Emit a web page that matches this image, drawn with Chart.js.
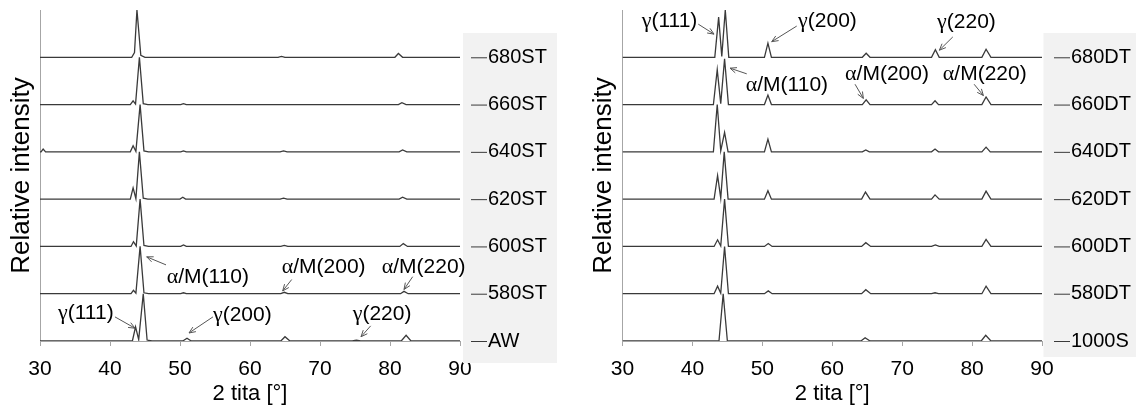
<!DOCTYPE html>
<html>
<head>
<meta charset="utf-8">
<script src="https://cdn.jsdelivr.net/npm/chart.js@4.4.1/dist/chart.umd.min.js"></script>
<style>
  html, body { margin: 0; padding: 0; background: #fff; }
  #wrap { position: relative; width: 1136px; height: 410px; }
  .panel { position: absolute; top: 0; width: 568px; height: 410px; }
</style>
</head>
<body>
<div id="wrap">
  <div class="panel" style="left:0"><canvas id="chartST" width="568" height="410"></canvas></div>
  <div class="panel" style="left:568px"><canvas id="chartDT" width="568" height="410"></canvas></div>
</div>
<script>
// x range in degrees (2 theta), y in relative intensity (each pattern stacked one unit apart)
var xTicks = [30, 40, 50, 60, 70, 80, 90];

// ---- left panel: single tempering (ST) ----
var stNames = ['AW', '580ST', '600ST', '620ST', '640ST', '660ST', '680ST'];

var stAW = [[30,0],[43.2,0],[43.65,0.3],[44.1,0.03],[44.75,1],[45.3,0.02],[46,0],[50.4,0],[51.0,0.06],[51.6,0],
  [64.4,0],[65.0,0.09],[65.7,0],[74.6,0],[75.2,0.02],[75.8,0],[81.6,0],[82.3,0.12],[83.0,0],[90,0]];
var st580 = [[30,0],[43.0,0],[43.35,0.07],[43.7,0.01],[44.3,1],[44.85,0.02],[45.5,0],[50.1,0],[50.5,0.02],[50.9,0],
  [64.4,0],[64.9,0.03],[65.4,0],[81.5,0],[82.0,0.05],[82.6,0],[90,0]];
var st600 = [[30,0],[43.0,0],[43.35,0.1],[43.75,0.01],[44.3,1],[44.85,0.02],[45.5,0],[50.1,0],[50.5,0.03],[50.9,0],
  [64.4,0],[64.9,0.02],[65.4,0],[81.4,0],[81.9,0.06],[82.5,0],[90,0]];
var st620 = [[30,0],[42.9,0],[43.3,0.24],[43.7,0.01],[44.2,1],[44.75,0.02],[45.4,0],[50.0,0],[50.4,0.04],[50.8,0],
  [64.3,0],[64.8,0.02],[65.3,0],[81.3,0],[81.8,0.04],[82.4,0],[90,0]];
var st640 = [[30,0],[30.15,0],[30.45,0.06],[30.8,0],[42.9,0],[43.3,0.13],[43.7,0.01],[44.3,1],[44.85,0.02],[45.5,0],
  [50.1,0],[50.5,0.02],[50.9,0],[64.3,0],[64.8,0.02],[65.3,0],[81.3,0],[81.8,0.04],[82.4,0],[90,0]];
var st660 = [[30,0],[42.9,0],[43.3,0.08],[43.65,0.01],[44.2,1],[44.75,0.02],[45.4,0],[50.1,0],[50.5,0.02],[50.9,0],
  [81.2,0],[81.7,0.04],[82.3,0],[90,0]];
var st680 = [[30,0],[43.1,0],[43.5,0.1],[43.85,1],[44.4,0.04],[45.0,0],[64.0,0],[64.5,0.02],[65,0],
  [80.7,0],[81.2,0.08],[81.8,0],[90,0]];

var stTraces = [stAW, st580, st600, st620, st640, st660, st680];

// peak labels: text anchor (left edge, middle) and arrow tail -> head, in axis units
var stNotes = [
  { greek: 'γ', text: '(111)',   x: 32.57, y: 0.59, from: [40.71, 0.51], to: [43.57, 0.27] },
  { greek: 'γ', text: '(200)',   x: 54.71, y: 0.55, from: [54.71, 0.51], to: [51.29, 0.17] },
  { greek: 'γ', text: '(220)',   x: 74.67, y: 0.57, from: [77.24, 0.32], to: [75.86, 0.09] },
  { greek: 'α', text: '/M(110)', x: 48.1,  y: 1.35, from: [48.0, 1.61],  to: [45.24, 1.78] },
  { greek: 'α', text: '/M(200)', x: 64.53, y: 1.57, from: [65.96, 1.30], to: [64.67, 1.06] },
  { greek: 'α', text: '/M(220)', x: 78.81, y: 1.57, from: [83.24, 1.36], to: [82.0, 1.09] }
];

// ---- right panel: double tempering (DT) ----
var dtNames = ['1000S', '580DT', '600DT', '620DT', '640DT', '660DT', '680DT'];

var dt1000 = [[30,0],[43.8,0],[44.4,1],[45.0,0],[64.1,0],[64.7,0.07],[65.4,0],[81.3,0],[81.95,0.12],[82.7,0],[90,0]];
var dt580 = [[30,0],[43.1,0],[43.6,0.16],[44.05,0.01],[44.6,1],[45.15,0],[50.3,0],[50.85,0.06],[51.4,0],
  [64.2,0],[64.8,0.085],[65.5,0],[74.2,0],[74.7,0.02],[75.2,0],[81.4,0],[82.0,0.16],[82.7,0],[90,0]];
var dt600 = [[30,0],[43.1,0],[43.6,0.14],[44.05,0.01],[44.6,1],[45.15,0],[50.3,0],[50.85,0.06],[51.4,0],
  [64.2,0],[64.8,0.08],[65.5,0],[74.2,0],[74.75,0.03],[75.3,0],[81.4,0],[82.0,0.15],[82.7,0],[90,0]];
var dt620 = [[30,0],[43.1,0],[43.6,0.5],[44.05,0.02],[44.55,1],[45.1,0],[50.3,0],[50.8,0.18],[51.3,0],
  [64.2,0],[64.75,0.15],[65.4,0],[74.2,0],[74.7,0.09],[75.3,0],[81.4,0],[82.0,0.17],[82.7,0],[90,0]];
var dt640 = [[30,0],[43.0,0],[43.55,1],[44.05,0.02],[44.6,0.41],[45.1,0],[50.3,0],[50.8,0.27],[51.3,0],
  [64.3,0],[64.8,0.04],[65.3,0],[74.2,0],[74.7,0.06],[75.2,0],[81.4,0],[82.0,0.1],[82.6,0],[90,0]];
var dt660 = [[30,0],[43.0,0],[43.55,0.74],[44.05,0.02],[44.6,0.97],[45.15,0],[50.3,0],[50.8,0.2],[51.3,0],
  [64.3,0],[64.85,0.1],[65.4,0],[74.2,0],[74.7,0.08],[75.2,0],[81.4,0],[82.0,0.16],[82.7,0],[90,0]];
var dt680 = [[30,0],[43.2,0],[43.75,0.85],[44.2,0.02],[44.7,1],[45.2,0],[50.3,0],[50.8,0.3],[51.3,0],
  [64.3,0],[64.85,0.085],[65.4,0],[74.2,0],[74.75,0.16],[75.3,0],[81.4,0],[82.0,0.17],[82.7,0],[90,0]];

var dtTraces = [dt1000, dt580, dt600, dt620, dt640, dt660, dt680];

var dtNotes = [
  { greek: 'γ', text: '(111)',   x: 32.75, y: 6.77, from: [40.84, 6.70], to: [43.09, 6.49] },
  { greek: 'γ', text: '(200)',   x: 55.11, y: 6.77, from: [54.92, 6.66], to: [51.34, 6.33] },
  { greek: 'γ', text: '(220)',   x: 74.99, y: 6.75, from: [77.24, 6.43], to: [75.32, 6.15] },
  { greek: 'α', text: '/M(110)', x: 47.63, y: 5.41, from: [47.77, 5.65], to: [45.38, 5.77] },
  { greek: 'α', text: '/M(200)', x: 61.83, y: 5.65, from: [63.26, 5.43], to: [64.45, 5.13] },
  { greek: 'α', text: '/M(220)', x: 75.81, y: 5.65, from: [80.29, 5.43], to: [81.62, 5.19] }
];

var SANS = '"Liberation Sans", Arial, sans-serif';
var SERIF = '"Liberation Serif", "Times New Roman", serif';
var AXIS_GREY = '#a6a6a6';
var LINE_COLOR = '#3a3a3a';

Chart.defaults.font.family = SANS;
Chart.defaults.color = '#000';

// grey side box with the sample names, then the peak labels on top of everything
var sidePanel = {
  id: 'sidePanel',
  afterDraw: function (chart) {
    var opts = chart.options.plugins.sidePanel;
    var ctx = chart.ctx;
    var area = chart.chartArea;
    var yScale = chart.scales.y;
    var xScale = chart.scales.x;

    ctx.save();
    ctx.fillStyle = '#f2f2f2';
    ctx.fillRect(area.right + opts.boxGap, opts.boxTop, opts.boxWidth, opts.boxBottom - opts.boxTop);

    ctx.font = '20px ' + SANS;
    ctx.textBaseline = 'middle';
    ctx.textAlign = 'left';
    ctx.strokeStyle = LINE_COLOR;
    ctx.lineWidth = 1;
    opts.names.forEach(function (name, i) {
      var y = yScale.getPixelForValue(i);
      ctx.beginPath();
      ctx.moveTo(area.right + opts.dashStart, y + 0.5);
      ctx.lineTo(area.right + opts.dashStart + 16, y + 0.5);
      ctx.stroke();
      ctx.fillStyle = '#000';
      ctx.fillText(name, area.right + opts.dashStart + 17, y);
    });

    opts.notes.forEach(function (n) {
      var tx = xScale.getPixelForValue(n.x);
      var ty = yScale.getPixelForValue(n.y);
      ctx.fillStyle = '#000';
      ctx.font = '22px ' + SERIF;
      ctx.fillText(n.greek, tx, ty);
      var w = ctx.measureText(n.greek).width;
      ctx.font = '21px ' + SANS;
      ctx.fillText(n.text, tx + w, ty);

      var x1 = xScale.getPixelForValue(n.from[0]);
      var y1 = yScale.getPixelForValue(n.from[1]);
      var x2 = xScale.getPixelForValue(n.to[0]);
      var y2 = yScale.getPixelForValue(n.to[1]);
      var ang = Math.atan2(y2 - y1, x2 - x1);
      ctx.strokeStyle = '#555';
      ctx.lineWidth = 1;
      ctx.beginPath();
      ctx.moveTo(x1, y1);
      ctx.lineTo(x2, y2);
      ctx.moveTo(x2 - 7 * Math.cos(ang - 0.4), y2 - 7 * Math.sin(ang - 0.4));
      ctx.lineTo(x2, y2);
      ctx.lineTo(x2 - 7 * Math.cos(ang + 0.4), y2 - 7 * Math.sin(ang + 0.4));
      ctx.stroke();
    });
    ctx.restore();
  }
};

function buildDatasets(traces, names) {
  return traces.map(function (trace, i) {
    return {
      label: names[i],
      data: trace.map(function (p) { return { x: p[0], y: p[1] + i }; }),
      borderColor: LINE_COLOR,
      borderWidth: 1.3,
      pointRadius: 0,
      tension: 0,
      fill: false
    };
  });
}

function createXrdChart(canvasId, config) {
  var ctx = document.getElementById(canvasId).getContext('2d');
  return new Chart(ctx, {
    type: 'line',
    data: { datasets: buildDatasets(config.traces, config.names) },
    options: {
      responsive: false,
      animation: false,
      layout: { padding: { left: config.padLeft, right: config.padRight, top: 10, bottom: 0 } },
      plugins: {
        legend: { display: false },
        tooltip: { enabled: false },
        sidePanel: {
          names: config.names,
          notes: config.notes,
          boxGap: config.boxGap,
          boxWidth: config.boxWidth,
          boxTop: 33,
          boxBottom: config.boxBottom,
          dashStart: config.dashStart
        }
      },
      scales: {
        x: {
          type: 'linear',
          min: xTicks[0],
          max: xTicks[xTicks.length - 1],
          afterBuildTicks: function (scale) {
            scale.ticks = xTicks.map(function (v) { return { value: v }; });
          },
          ticks: { font: { size: 21 }, color: '#000', padding: 11 },
          grid: { drawOnChartArea: false, drawTicks: true, tickLength: 5, color: AXIS_GREY },
          border: { display: true, color: AXIS_GREY, width: 1 },
          title: { display: true, text: '2 tita [°]', font: { size: 22 }, color: '#000', padding: { top: 0, bottom: 3 } },
          afterFit: function (scale) { scale.height = 69; }
        },
        y: {
          type: 'linear',
          min: 0,
          max: 7,
          ticks: { display: false },
          grid: { drawOnChartArea: false, drawTicks: false },
          border: { display: true, color: AXIS_GREY, width: 1 },
          title: { display: true, text: 'Relative intensity', font: { size: 26 }, color: '#000', padding: { top: 6, bottom: 0 } },
          afterFit: function (scale) { scale.width = 40; }
        }
      }
    },
    plugins: [sidePanel]
  });
}

createXrdChart('chartST', {
  traces: stTraces, names: stNames, notes: stNotes,
  padLeft: 0, padRight: 108, boxGap: 3, boxWidth: 94, boxBottom: 363, dashStart: 11
});

createXrdChart('chartDT', {
  traces: dtTraces, names: dtNames, notes: dtNotes,
  padLeft: 14.5, padRight: 94, boxGap: 1.5, boxWidth: 100, boxBottom: 357, dashStart: 12
});
</script>
</body>
</html>
